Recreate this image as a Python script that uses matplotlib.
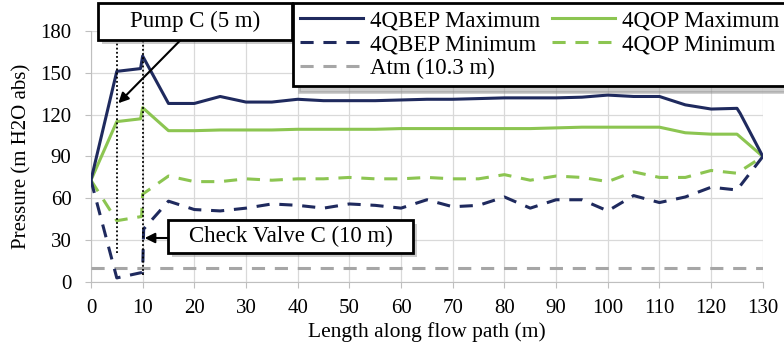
import matplotlib.pyplot as plt
from matplotlib.patches import Rectangle
from matplotlib import transforms

plt.rcParams['font.family'] = ['Liberation Serif', 'DejaVu Serif']

# Series data
bep_max_x = [0, 5, 9.6, 10, 15, 20, 25, 30, 35, 40, 45, 50, 55, 60, 65, 70, 75, 80, 85, 90,
             95, 100, 105, 110, 115, 120, 125, 125.6, 130]
bep_max_y = [73, 151, 153, 162, 128, 128, 133, 129, 129, 131, 130, 130, 130, 130.5, 131, 131,
             131.5, 132, 132, 132, 132.5, 134, 133, 133, 127, 124, 124.5, 121, 90]

op_max_x = [0, 5, 9.6, 10, 15, 20, 25, 30, 35, 40, 45, 50, 55, 60, 65, 70, 75, 80, 85, 90,
            95, 100, 105, 110, 115, 120, 125, 130]
op_max_y = [73, 115, 117, 125, 108.5, 108.5, 109, 109, 109, 109.5, 109.5, 109.5, 109.5, 110,
            110, 110, 110, 110, 110, 110.5, 111, 111, 111, 111, 107, 106, 106, 90]

bep_min_x = [0, 5, 10, 10.2, 15, 20, 25, 30, 35, 40, 45, 50, 55, 60, 65, 70, 75, 80, 85, 90,
             95, 100, 105, 110, 115, 120, 125, 130]
bep_min_y = [73, 3, 7, 38, 58, 52, 51, 53, 56, 55, 53, 56, 55, 53, 59, 54, 55, 61, 53, 59,
             59, 51, 62, 57, 61, 68, 66, 90]

op_min_x = [0, 5, 9.8, 10, 15, 20, 25, 30, 35, 40, 45, 50, 55, 60, 65, 70, 75, 80, 85, 90,
            95, 100, 105, 110, 115, 120, 125, 130]
op_min_y = [73, 44, 47, 63, 76, 72, 72, 74, 73, 74, 74, 75, 74, 74, 75, 74, 74, 77, 73, 76,
            75, 72, 79, 75, 75, 80, 78, 90]

atm_x = [0, 130]
atm_y = [10.3, 10.3]

navy = '#1f2a5e'
green = '#8cc551'
grey = '#a6a6a6'
dash = (4.3, 3.2)

fig = plt.figure(figsize=(7.84, 3.47), dpi=100)
ax = fig.add_axes([0.116, 0.187, 0.857, 0.724])

ax.plot(bep_max_x, bep_max_y, color=navy, lw=2.2, label='4QBEP Maximum', zorder=4)
ax.plot(bep_min_x, bep_min_y, color=navy, lw=2.2, dashes=dash, label='4QBEP Minimum', zorder=4)
ax.plot(atm_x, atm_y, color=grey, lw=2.2, dashes=dash, label='Atm (10.3 m)', zorder=3)
ax.plot(op_max_x, op_max_y, color=green, lw=2.2, label='4QOP Maximum', zorder=3)
ax.plot(op_min_x, op_min_y, color=green, lw=2.2, dashes=dash, label='4QOP Minimum', zorder=3)

# dotted markers for pump and check valve
ax.plot([5, 5], [21, 180], color='black', lw=1.3, ls=(0, (1, 1.3)), zorder=5)
ax.plot([10, 10], [5, 180], color='black', lw=1.3, ls=(0, (1, 1.3)), zorder=5)

ax.set_xlim(0, 130)
ax.set_ylim(0, 180)
ax.set_xticks(range(0, 131, 10))
ax.set_yticks(range(0, 181, 30))
ax.grid(color='#d9d9d9', lw=0.9)
ax.set_axisbelow(True)
for s in ['top', 'right']:
    ax.spines[s].set_visible(False)
for s in ['left', 'bottom']:
    ax.spines[s].set_color('#bfbfbf')
ax.tick_params(colors='#bfbfbf', labelcolor='black', labelsize=15, length=4)
ax.tick_params(axis='y', pad=10)
ax.tick_params(axis='x', pad=8)
ax.set_xlabel('Length along flow path (m)', fontsize=15.5, labelpad=3)
ax.set_ylabel('Pressure (m H2O abs)', fontsize=15, labelpad=6)


def callout(text, x0, x1, y0, y1, tip, tail):
    shift = transforms.offset_copy(ax.transData, fig=fig, x=4, y=-4, units='dots')
    ax.add_patch(Rectangle((x0, y0), x1 - x0, y1 - y0, transform=shift, fc='#8c8c8c',
                           ec='none', alpha=0.45, clip_on=False, zorder=6))
    ax.add_patch(Rectangle((x0, y0), x1 - x0, y1 - y0, fc='white', ec='black', lw=2,
                           clip_on=False, zorder=7))
    ax.text((x0 + x1) / 2, (y0 + y1) / 2, text, ha='center', va='center', fontsize=16.5,
            zorder=8, clip_on=False)
    ax.annotate('', xy=tip, xytext=tail, annotation_clip=False, zorder=8,
                arrowprops=dict(arrowstyle='-|>', color='black', lw=1.5,
                                mutation_scale=15, shrinkA=0, shrinkB=0))


callout('Pump C (5 m)', 1.35, 38.9, 173.6, 200.1, (5.3, 128.2), (17.2, 172.9))
callout('Check Valve C (10 m)', 14.9, 62.3, 20.8, 44.5, (10.4, 31.6), (14.9, 31.6))

leg = ax.legend(loc='upper left', bbox_to_anchor=(0.374, 0.99), bbox_transform=fig.transFigure,
                ncol=2, fontsize=16.5, handlelength=2.75, handletextpad=0.3, columnspacing=0.5,
                labelspacing=0.12, borderpad=0.3, borderaxespad=0, fancybox=False,
                shadow={'color': '#8c8c8c', 'alpha': 0.45, 'ox': 4, 'oy': -4})
leg.get_frame().set_edgecolor('black')
leg.get_frame().set_linewidth(2)
leg.set_zorder(9)

fig.savefig('out.png', dpi=100)
